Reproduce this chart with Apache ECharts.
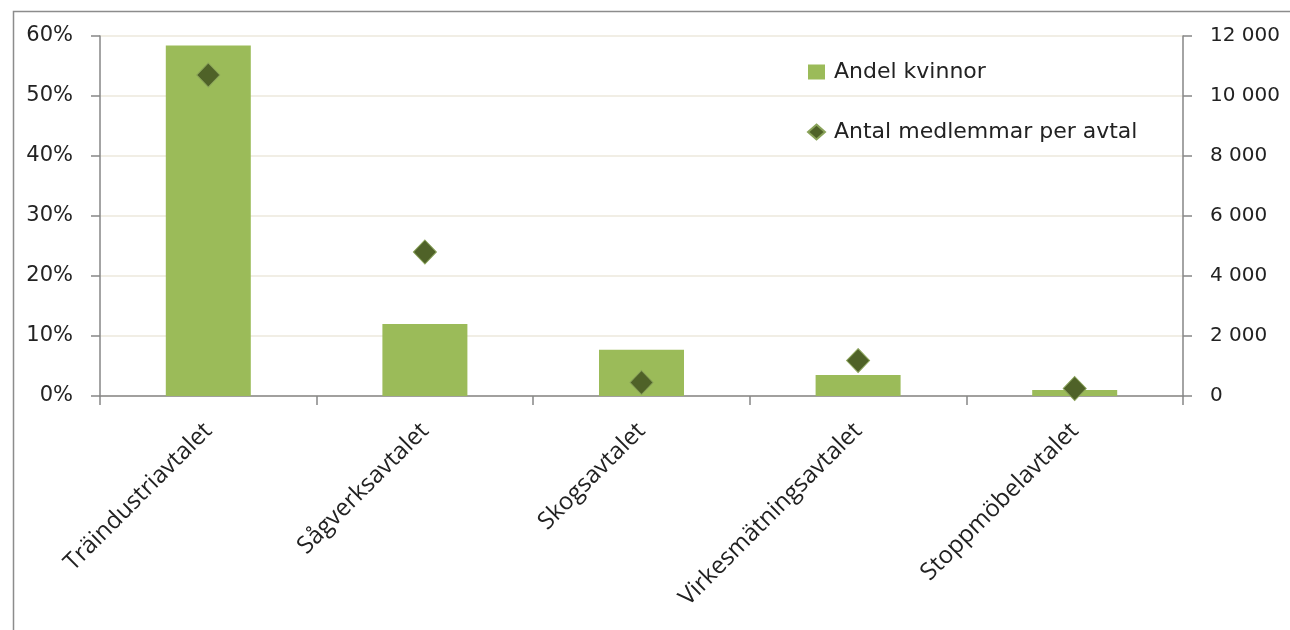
<!DOCTYPE html>
<html><head><meta charset="utf-8">
<script src="https://cdn.jsdelivr.net/npm/echarts@6/dist/echarts.min.js"></script>
<style>html,body{margin:0;padding:0;background:#fff}#c{width:1290px;height:630px}</style>
</head><body><div id="c"></div>
<script>
const categories = ['Träindustriavtalet','Sågverksavtalet','Skogsavtalet','Virkesmätningsavtalet','Stoppmöbelavtalet'];
const andelKvinnor = [58.4, 12.0, 7.7, 3.5, 1.0];
const antalMedlemmar = [10700, 4800, 450, 1180, 250];
const seriesNames = ['Andel kvinnor','Antal medlemmar per avtal'];

const chart = echarts.init(document.getElementById('c'));
const fmtThousands = v => String(v).replace(/\B(?=(\d{3})+(?!\d))/g, ' ');
chart.setOption({
  animation: false,
  backgroundColor: '#fff',
  graphic: [{type:'rect', shape:{x:13.5,y:11.5,width:1290,height:700}, style:{fill:'none', stroke:'#8c8c8c', lineWidth:1.5}, silent:true}],
  grid: {left:100, right:107, top:36, bottom:234},
  legend: {
    orient:'vertical', left:807, top:61, itemGap:38, itemWidth:17, itemHeight:15, padding:0,
    textStyle:{fontFamily:'DejaVu Sans', fontSize:22, color:'#222', padding:[0,0,0,4]},
    data:[{name:seriesNames[0], icon:'rect'},{name:seriesNames[1], icon:'diamond'}]
  },
  xAxis: {
    type:'category', data:categories,
    axisLine:{lineStyle:{color:'#868686', width:1.5}},
    axisTick:{show:true, length:9, lineStyle:{color:'#868686', width:1.5}},
    axisLabel:{rotate:45, fontFamily:'Open Sans', fontSize:24, color:'#222', margin:31, interval:0}
  },
  yAxis: [{
    type:'value', min:0, max:60, interval:10,
    axisLine:{show:true, lineStyle:{color:'#868686', width:1.5}},
    axisTick:{show:true, length:9, lineStyle:{color:'#868686', width:1.5}},
    axisLabel:{formatter:'{value}%', fontFamily:'DejaVu Sans', fontSize:21, color:'#222', margin:27},
    splitLine:{show:true, lineStyle:{color:'#ece9dc', width:1.5}}
  },{
    type:'value', min:0, max:12000, interval:2000, position:'right',
    axisLine:{show:true, lineStyle:{color:'#868686', width:1.5}},
    axisTick:{show:true, length:9, lineStyle:{color:'#868686', width:1.5}},
    axisLabel:{formatter:v=>fmtThousands(v), fontFamily:'DejaVu Sans', fontSize:20, color:'#222', margin:27},
    splitLine:{show:false}
  }],
  series: [{
    name:seriesNames[0], type:'bar', data:andelKvinnor, yAxisIndex:0,
    barWidth:85, itemStyle:{color:'#9bbb59'}
  },{
    name:seriesNames[1], type:'scatter', data:antalMedlemmar, yAxisIndex:1,
    symbol:'diamond', symbolSize:[23,24],
    itemStyle:{color:'#4f6228', opacity:1, borderColor:'#8aa35a', borderWidth:1}
  }]
});
</script></body></html>
